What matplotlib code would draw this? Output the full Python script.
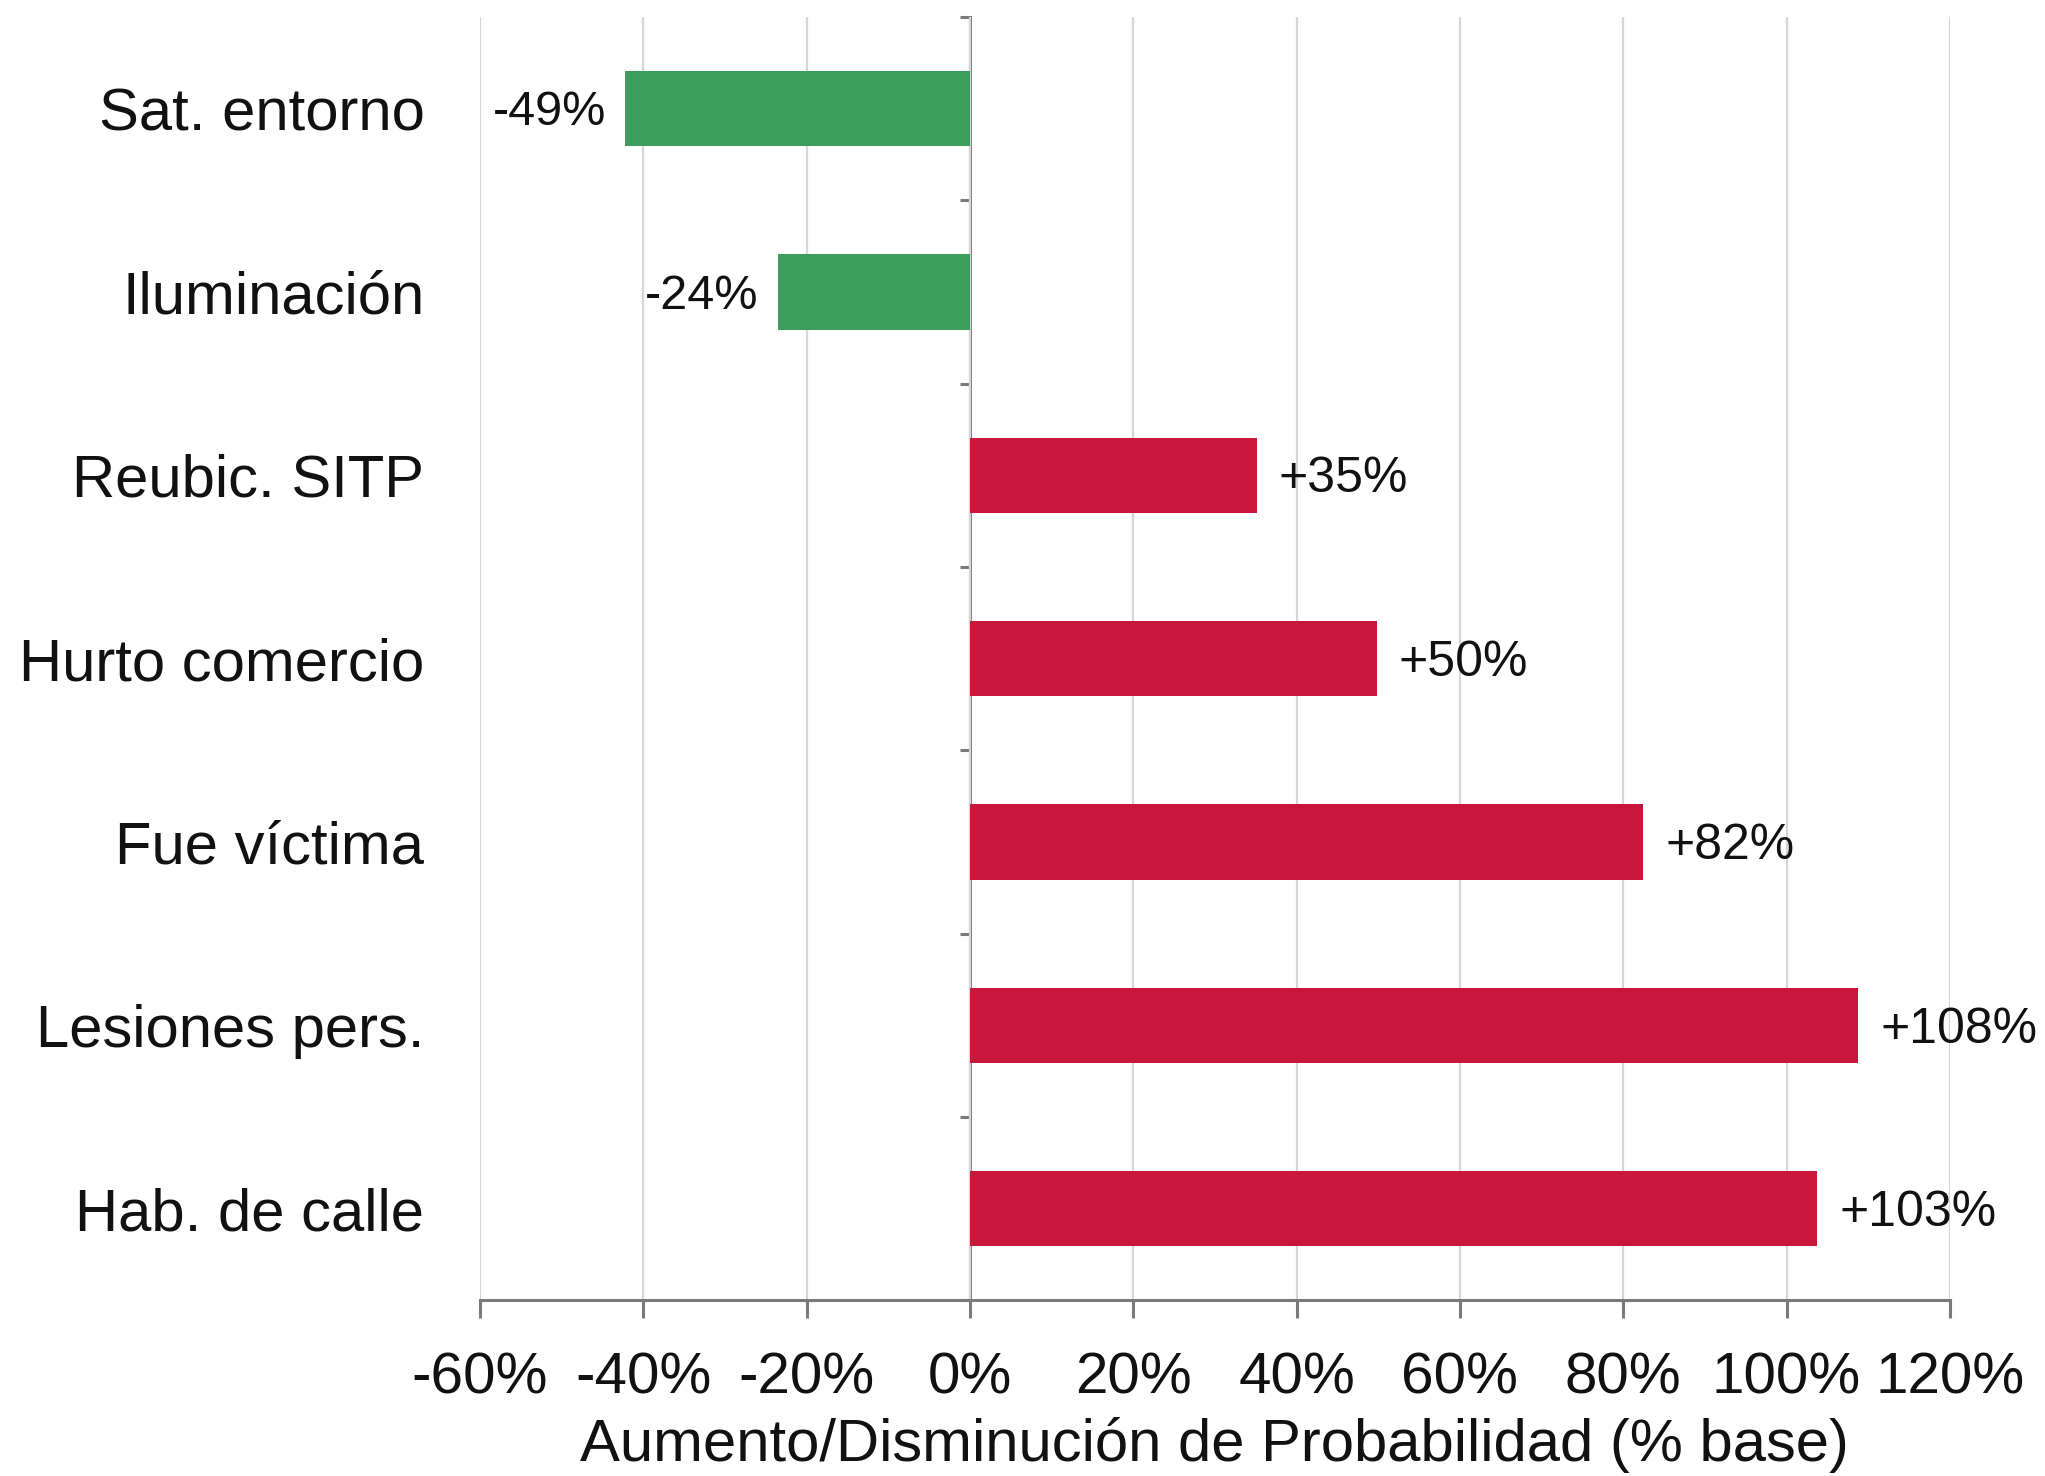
import matplotlib
matplotlib.use("Agg")
import matplotlib.pyplot as plt
import numpy as np

plt.rcParams['font.family'] = ['Liberation Sans', 'DejaVu Sans']

categories = ["Sat. entorno", "Iluminación", "Reubic. SITP", "Hurto comercio",
              "Fue víctima", "Lesiones pers.", "Hab. de calle"]
bar_values = [-42.2, -23.5, 35.1, 49.8, 82.4, 108.8, 103.7]
value_labels = ["-49%", "-24%", "+35%", "+50%", "+82%", "+108%", "+103%"]
x_ticks = [-60, -40, -20, 0, 20, 40, 60, 80, 100, 120]
x_tick_labels = [f"{t}%" for t in x_ticks]
x_label = "Aumento/Disminución de Probabilidad (% base)"

green = "#3d9d5d"
red = "#c8173a"
spine_gray = "#7a7a7a"
grid_gray = "#d6d6d6"
text_color = "#111111"

fig = plt.figure(figsize=(20.45, 14.76), dpi=100)
ax = fig.add_axes([0.2347, 0.119, 0.9535 - 0.2347, 0.9885 - 0.119])

y = np.arange(len(categories))
colors = [green if v < 0 else red for v in bar_values]
ax.barh(y, bar_values, height=0.41, color=colors, zorder=3)

ax.set_xlim(-60, 120)
ax.set_ylim(len(categories) - 0.5, -0.5)

ax.set_xticks(x_ticks)
ax.set_xticklabels(x_tick_labels)
ax.grid(axis='x', color=grid_gray, linewidth=1.6, zorder=0)
ax.set_axisbelow(True)

for s in ['top', 'right', 'left']:
    ax.spines[s].set_visible(False)
ax.spines['bottom'].set_color(spine_gray)
ax.spines['bottom'].set_linewidth(2.2)

ax.tick_params(axis='x', direction='out', length=13, width=2.2, color=spine_gray,
               labelsize=42, labelcolor=text_color, pad=24)
ax.set_yticks(y)
ax.set_yticklabels(categories)
ax.tick_params(axis='y', length=0, labelsize=43, labelcolor=text_color, pad=40)

# y-axis at x = 0 with category boundary ticks
pos0 = (0 - (-60)) / (120 - (-60))
sec = ax.secondary_yaxis(pos0)
sec.spines['left'].set_color(spine_gray)
sec.spines['left'].set_linewidth(2.2)
sec.set_yticks(np.arange(len(categories) + 1) - 0.5)
sec.set_yticklabels([])
sec.tick_params(axis='y', direction='out', length=7, width=2.2, color=spine_gray)

ax.set_xlabel(x_label, fontsize=43, color=text_color, labelpad=8)

for yi, v, lab in zip(y, bar_values, value_labels):
    if v < 0:
        ax.annotate(lab, xy=(v, yi), xytext=(-14, -3), textcoords='offset points',
                    ha='right', va='center', fontsize=35, color=text_color,
                    annotation_clip=False)
    else:
        ax.annotate(lab, xy=(v, yi), xytext=(16, -3), textcoords='offset points',
                    ha='left', va='center', fontsize=36, color=text_color,
                    annotation_clip=False)

fig.savefig("out.png", dpi=100, facecolor='white')
